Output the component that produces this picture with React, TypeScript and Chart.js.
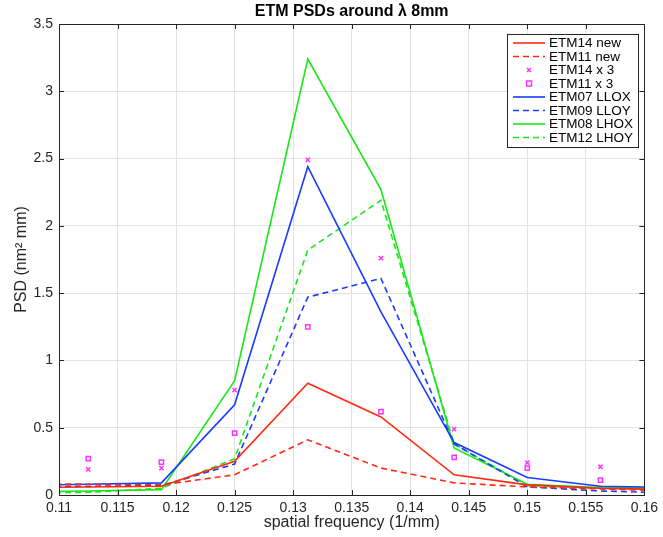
import React, { useEffect, useRef } from 'react';
import { Chart, registerables } from 'chart.js';
Chart.register(...registerables);

const lineX = [0.10625, 0.1125, 0.11875, 0.125, 0.13125, 0.1375, 0.14375, 0.15, 0.15625, 0.1625];
const markerX = [0.1125, 0.11875, 0.125, 0.13125, 0.1375, 0.14375, 0.15, 0.15625];

const etm14New = [0.055, 0.06, 0.065, 0.25, 0.83, 0.58, 0.15, 0.075, 0.05, 0.04];
const etm11New = [0.085, 0.08, 0.075, 0.15, 0.41, 0.2, 0.09, 0.06, 0.045, 0.03];
const etm14x3 = [0.19, 0.2, 0.78, 2.49, 1.76, 0.49, 0.24, 0.21];
const etm11x3 = [0.27, 0.245, 0.46, 1.25, 0.62, 0.28, 0.2, 0.11];
const etm07LLOX = [0.07, 0.08, 0.09, 0.67, 2.44, 1.36, 0.39, 0.13, 0.065, 0.055];
const etm09LLOY = [0.06, 0.065, 0.07, 0.23, 1.47, 1.61, 0.38, 0.06, 0.03, 0.015];
const etm08LHOX = [0.025, 0.03, 0.04, 0.85, 3.24, 2.27, 0.35, 0.08, 0.055, 0.05];
const etm12LHOY = [0.015, 0.02, 0.05, 0.27, 1.82, 2.19, 0.38, 0.07, 0.05, 0.045];

const labels = ['ETM14 new', 'ETM11 new', 'ETM14 x 3', 'ETM11 x 3', 'ETM07 LLOX', 'ETM09 LLOY', 'ETM08 LHOX', 'ETM12 LHOY'];

const RED = '#ff2a10';
const BLUE = '#1a3cff';
const GREEN = '#18e818';
const MAG = '#ff33ff';
const FONT = '"Liberation Sans", Arial, Helvetica, sans-serif';
const TXT = '#262626';

const pts = (xv: number[], yv: number[]) => xv.map((x, i) => ({ x, y: yv[i] }));

export default function App() {
  const ref = useRef<HTMLCanvasElement>(null);
  useEffect(() => {
    document.body.style.margin = '0';
    const canvas = ref.current!;
    const lineDs = (label: string, data: number[], color: string, dashed: boolean) => ({
      label,
      data: pts(lineX, data),
      showLine: true,
      borderColor: color,
      backgroundColor: color,
      borderWidth: 1.6,
      borderDash: dashed ? [6, 4] : [],
      pointRadius: 0,
      tension: 0,
    });
    const markDs = (label: string, data: number[], style: string) => ({
      label,
      data: pts(markerX, data),
      showLine: false,
      borderColor: MAG,
      backgroundColor: 'rgba(0,0,0,0)',
      borderWidth: 1.5,
      pointStyle: style,
      pointRadius: 3,
    });
    const datasets: any[] = [
      lineDs(labels[0], etm14New, RED, false),
      lineDs(labels[1], etm11New, RED, true),
      markDs(labels[2], etm14x3, 'crossRot'),
      markDs(labels[3], etm11x3, 'rect'),
      lineDs(labels[4], etm07LLOX, BLUE, false),
      lineDs(labels[5], etm09LLOY, BLUE, true),
      lineDs(labels[6], etm08LHOX, GREEN, false),
      lineDs(labels[7], etm12LHOY, GREEN, true),
    ];

    const deco = {
      id: 'deco',
      beforeDraw(chart: any) {
        const c = chart.ctx;
        c.save();
        c.fillStyle = '#fff';
        c.fillRect(0, 0, chart.width, chart.height);
        c.restore();
      },
      afterDraw(chart: any) {
        const c = chart.ctx;
        const a = chart.chartArea;
        const xs = chart.scales.x;
        const ys = chart.scales.y;
        c.save();
        // box
        c.strokeStyle = TXT;
        c.lineWidth = 1;
        c.setLineDash([]);
        c.strokeRect(Math.round(a.left) + 0.5, Math.round(a.top) + 0.5, Math.round(a.right - a.left), Math.round(a.bottom - a.top));
        // inward ticks
        const tl = 5;
        xs.ticks.forEach((t: any) => {
          const px = Math.round(xs.getPixelForValue(t.value)) + 0.5;
          c.beginPath();
          c.moveTo(px, a.bottom);
          c.lineTo(px, a.bottom - tl);
          c.moveTo(px, a.top);
          c.lineTo(px, a.top + tl);
          c.stroke();
        });
        ys.ticks.forEach((t: any) => {
          const py = Math.round(ys.getPixelForValue(t.value)) + 0.5;
          c.beginPath();
          c.moveTo(a.left, py);
          c.lineTo(a.left + tl, py);
          c.moveTo(a.right, py);
          c.lineTo(a.right - tl, py);
          c.stroke();
        });
        // title
        c.fillStyle = '#000';
        c.font = `bold 16px ${FONT}`;
        c.textAlign = 'center';
        c.textBaseline = 'middle';
        c.fillText('ETM PSDs around \u03bb 8mm', (a.left + a.right) / 2, 12);
        // x title
        c.fillStyle = TXT;
        c.font = `16px ${FONT}`;
        c.fillText('spatial frequency (1/mm)', (a.left + a.right) / 2, 523);
        // y title
        c.save();
        c.translate(22, (a.top + a.bottom) / 2);
        c.rotate(-Math.PI / 2);
        c.fillText('PSD (nm\u00b2 mm)', 0, 0);
        c.restore();
        // legend
        const lx = 507, ly = 34, lw = 131, lh = 113;
        c.fillStyle = '#fff';
        c.fillRect(lx, ly, lw, lh);
        c.strokeStyle = TXT;
        c.lineWidth = 1;
        c.strokeRect(lx + 0.5, ly + 0.5, lw, lh);
        c.font = `13.5px ${FONT}`;
        c.textAlign = 'left';
        c.textBaseline = 'middle';
        datasets.forEach((d: any, i: number) => {
          const y = 43 + i * 13.5;
          if (d.showLine) {
            c.strokeStyle = d.borderColor;
            c.lineWidth = 1.6;
            c.setLineDash(d.borderDash);
            c.beginPath();
            c.moveTo(513, y);
            c.lineTo(545, y);
            c.stroke();
            c.setLineDash([]);
          } else {
            c.strokeStyle = MAG;
            c.lineWidth = 1.5;
            const cx = 529;
            c.beginPath();
            if (d.pointStyle === 'crossRot') {
              c.moveTo(cx - 2, y - 2);
              c.lineTo(cx + 2, y + 2);
              c.moveTo(cx + 2, y - 2);
              c.lineTo(cx - 2, y + 2);
            } else {
              c.rect(cx - 2.5, y - 2.5, 5, 5);
            }
            c.stroke();
          }
          c.fillStyle = '#000';
          c.fillText(d.label, 549, y + 0.5);
        });
        c.restore();
      },
    };

    const chart = new Chart(canvas, {
      type: 'scatter',
      data: { datasets },
      options: {
        responsive: false,
        animation: false,
        layout: { padding: { left: 0, right: 14, top: 24, bottom: 0 } },
        plugins: { legend: { display: false }, title: { display: false }, tooltip: { enabled: false } },
        scales: {
          x: {
            type: 'linear',
            min: 0.11,
            max: 0.16,
            afterFit: (s: any) => { s.height = 42; },
            border: { display: false },
            grid: { color: '#e2e2e2', lineWidth: 1, drawTicks: false },
            ticks: {
              stepSize: 0.005,
              padding: 5,
              color: TXT,
              font: { family: FONT, size: 14 },
              maxRotation: 0,
              autoSkip: false,
              callback: (v: any) => String(Number(Number(v).toFixed(4))),
            },
          },
          y: {
            min: 0,
            max: 3.5,
            afterFit: (s: any) => { s.width = 59; },
            border: { display: false },
            grid: { color: '#e2e2e2', lineWidth: 1, drawTicks: false },
            ticks: {
              stepSize: 0.5,
              padding: 6,
              color: TXT,
              font: { family: FONT, size: 14 },
              callback: (v: any) => String(Number(Number(v).toFixed(2))),
            },
          },
        },
      },
      plugins: [deco],
    } as any);
    return () => chart.destroy();
  }, []);
  return (
    <div style={{ width: 663, height: 537 }}>
      <canvas ref={ref} width={663} height={537} style={{ display: 'block' }} />
    </div>
  );
}
